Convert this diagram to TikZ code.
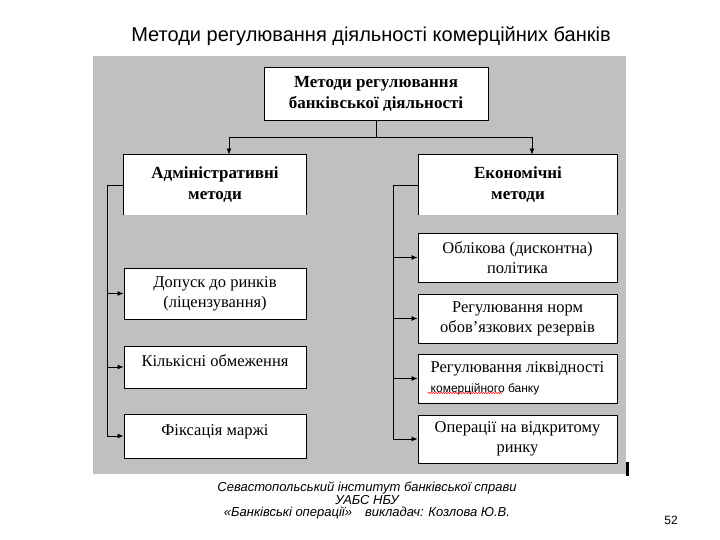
\documentclass[tikz,border=0pt]{standalone}
\usepackage{fontspec}
\setmainfont{Liberation Serif}
\setsansfont{Liberation Sans}
\usetikzlibrary{arrows.meta,calc,decorations.pathmorphing}
\definecolor{slidegrey}{RGB}{192,192,192}

\begin{document}
\begin{tikzpicture}[
  x=1pt, y=-1pt,
  box/.style={
    draw, fill=white, line width=0.9pt,
    inner sep=2pt, align=center,
    font=\fontsize{16.5}{20}\selectfont,
  },
  head/.style={box, font=\fontsize{17}{21}\selectfont\bfseries},
  Lbox/.style={box, minimum width=182pt},
  Rbox/.style={box, minimum width=199pt},
  link/.style={line width=0.9pt},
  arr/.style={link, -{Latex[length=6pt,width=5pt]}},
  spell/.style={red, line width=0.5pt, decorate,
    decoration={snake, amplitude=0.7pt, segment length=2.5pt}},
]

% page 720 x 540, 1px = 1pt, y grows downwards
\useasboundingbox (0,0) rectangle (720,540);

\node[font=\sffamily\fontsize{20}{24}\selectfont, anchor=base] (title) at (371,42)
  {Методи регулювання діяльності комерційних банків};

% grey scan area
\fill[slidegrey] (93,56) rectangle (626,474);
\fill (626,462) rectangle (629,476);

% top of the tree
\node[head, minimum width=224pt, minimum height=53pt] (top) at (376,93.5)
  {Методи регулювання\\банківської діяльності};

% the two groups (no bottom edge)
\node[head, draw=none, minimum width=182pt, minimum height=60pt] (adm) at (215,185)
  {Адміністративні\\методи};
\node[head, draw=none, minimum width=198pt, minimum height=60pt] (eco) at (518,185)
  {Економічні\\методи};
\draw[link] (adm.south west) -- (adm.north west) -- (adm.north east) -- (adm.south east);
\draw[link] (eco.south west) -- (eco.north west) -- (eco.north east) -- (eco.south east);

\coordinate (jl) at (229,137);
\coordinate (jr) at (532,137);
\draw[link] (top.south) -- (top.south |- jl);
\draw[link] (jl) -- (jr);
\draw[arr] (jl) -- (jl |- adm.north);
\draw[arr] (jr) -- (jr |- eco.north);

% administrative methods
\node[Lbox, minimum height=51pt] (dop) at (215,293.5) {Допуск до ринків\\(ліцензування)};
\node[Lbox, minimum height=42pt, text depth=13pt] (kil) at (215,367) {Кількісні обмеження};
\node[Lbox, minimum height=44pt, text depth=12pt] (fix) at (215,436) {Фіксація маржі};

\coordinate (lt) at (107,0);
\draw[link] (adm.west) -- (adm.west -| lt) -- (lt |- fix.west);
\foreach \b in {dop,kil,fix}
  \draw[arr] (lt |- \b.west) -- (\b.west);

% economic methods
\node[Rbox, minimum height=49pt] (obl) at (517.5,257.5) {Облікова (дисконтна)\\політика};
\node[Rbox, minimum height=49pt] (nrm) at (517.5,318.5) {Регулювання норм\\обов’язкових резервів};
\node[Rbox, minimum height=49pt, align=left] (lik) at (517.5,378.5)
  {Регулювання ліквідності\\{\sffamily\fontsize{12}{13}\selectfont комерційного банку}};
\node[Rbox, minimum height=48pt] (opr) at (517.5,439) {Операції на відкритому\\ринку};
\draw[spell] ($(lik.west)+(10,14.5)$) -- ($(lik.west)+(85,14.5)$);

\coordinate (rt) at (393,0);
\draw[link] (eco.west) -- (eco.west -| rt) -- (rt |- opr.west);
\foreach \b in {obl,nrm,lik,opr}
  \draw[arr] (rt |- \b.west) -- (\b.west);

% footer
\node[font=\sffamily\itshape\fontsize{13}{12.5}\selectfont, align=center] (foot) at (367,501)
  {Севастопольський інститут банківської справи\\УАБС НБУ\\«Банківські операції»\quad викладач: Козлова Ю.В.};
\node[font=\sffamily\fontsize{12}{14}\selectfont] (pg) at (671,520) {52};

\end{tikzpicture}
\end{document}
